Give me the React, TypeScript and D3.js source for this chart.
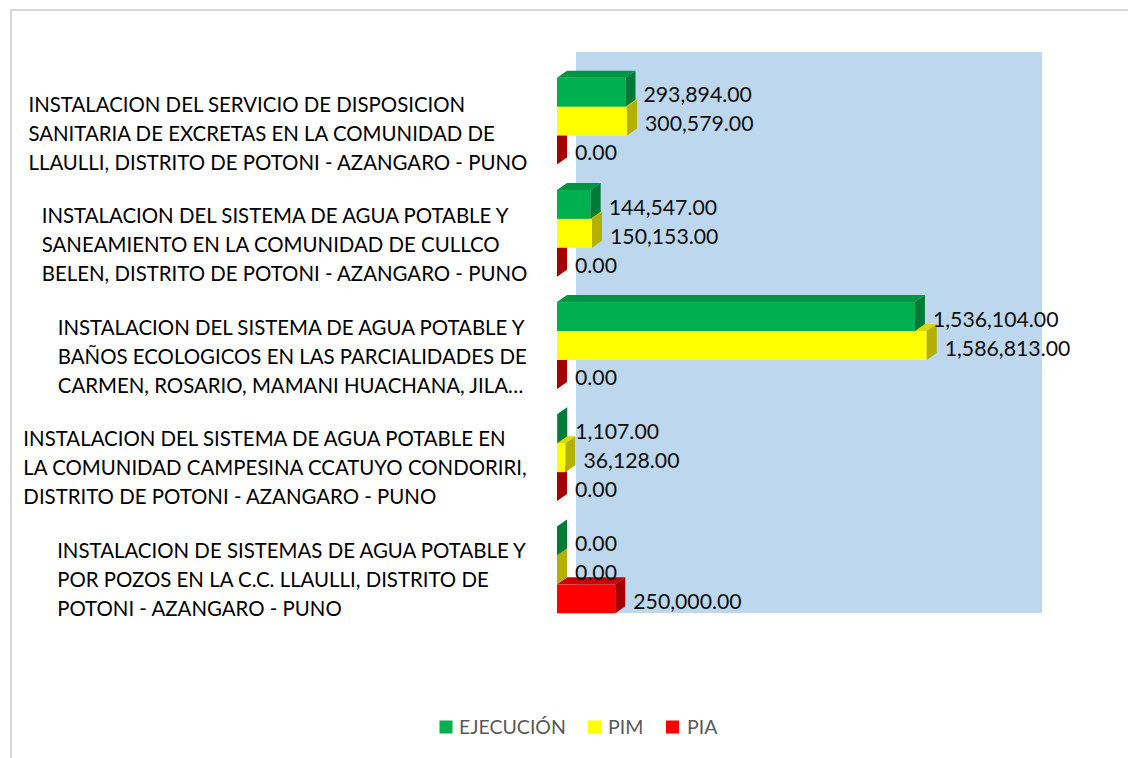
import React, { useMemo } from "react";
import * as d3 from "d3";

const CATEGORIES: string[][] = [
  ["INSTALACION DEL SERVICIO DE DISPOSICION", "SANITARIA DE EXCRETAS EN LA COMUNIDAD DE", "LLAULLI, DISTRITO DE POTONI - AZANGARO - PUNO"],
  ["INSTALACION DEL SISTEMA DE AGUA POTABLE Y", "SANEAMIENTO EN LA COMUNIDAD DE CULLCO", "BELEN, DISTRITO DE POTONI - AZANGARO - PUNO"],
  ["INSTALACION DEL SISTEMA DE AGUA POTABLE Y", "BAÑOS ECOLOGICOS EN LAS PARCIALIDADES DE", "CARMEN, ROSARIO, MAMANI HUACHANA, JILA…"],
  ["INSTALACION DEL SISTEMA DE AGUA POTABLE EN", "LA COMUNIDAD CAMPESINA CCATUYO CONDORIRI,", "DISTRITO DE POTONI - AZANGARO - PUNO"],
  ["INSTALACION DE SISTEMAS DE AGUA POTABLE Y", "POR POZOS EN LA C.C. LLAULLI, DISTRITO DE", "POTONI - AZANGARO - PUNO"],
];

const EJECUCION = [293894, 144547, 1536104, 1107, 0];
const PIM = [300579, 150153, 1586813, 36128, 0];
const PIA = [0, 0, 0, 0, 250000];

const SERIES_NAMES = ["EJECUCIÓN", "PIM", "PIA"];
const X_MAX = 2000000;

const SERIES = [
  { name: SERIES_NAMES[0], values: EJECUCION, front: "#00B050", top: "#009443", side: "#007A37" },
  { name: SERIES_NAMES[1], values: PIM, front: "#FFFF00", top: "#DADA00", side: "#B3B000" },
  { name: SERIES_NAMES[2], values: PIA, front: "#FF0000", top: "#C80000", side: "#A50000" },
];

const FONT = "Lato, 'Open Sans', sans-serif";

function measure(text: string, size: number): number {
  const c = document.createElement("canvas");
  const ctx = c.getContext("2d")!;
  ctx.font = `${size}px ${FONT}`;
  return ctx.measureText(text).width;
}
function fit(text: string, target: number): number {
  return (100 * target) / measure(text, 100);
}

export default function App() {
  const W = 1128, H = 758;
  const x0 = 557, x1 = 1023;
  const yTop = 65, yBot = 626;
  const wallDx = 19, wallDy = -13;
  const barDx = 10, barDy = -7;

  const x = d3.scaleLinear().domain([0, X_MAX]).range([x0, x1]);
  const idx = CATEGORIES.map((_, i) => String(i));
  const y = d3.scaleBand().domain(idx).range([yTop, yBot]).paddingInner(0.226).paddingOuter(0.113);
  const yInner = d3.scaleBand().domain(SERIES.map((s) => s.name)).range([0, y.bandwidth()]);
  const yLabel = d3.scalePoint().domain(idx).range([133.6, 579.6]);
  const fmt = d3.format(",.2f");

  const sizes = useMemo(() => {
    const cat = fit("LLAULLI, DISTRITO DE POTONI - AZANGARO - PUNO", 500);
    const val = fit("293,894.00", 108.5);
    const leg = fit("EJECUCIÓN", 107);
    const blockW = CATEGORIES.map((lines) => Math.max(...lines.map((l) => measure(l, cat))));
    return { cat, val, leg, blockW };
  }, []);

  const catRight = 528;
  const lineGap = 29;

  const bars: JSX.Element[] = [];
  CATEGORIES.forEach((_, ci) => {
    const order = [2, 1, 0];
    order.forEach((si) => {
      const s = SERIES[si];
      const v = s.values[ci];
      const yb = (y(String(ci)) as number) + (yInner(s.name) as number);
      const h = yInner.bandwidth();
      const xe = x(v);
      const xs = x(0);
      bars.push(
        <g key={`b-${ci}-${si}`}>
          {xe > xs && <rect x={xs} y={yb} width={xe - xs} height={h} fill={s.front} />}
          {xe > xs && (
            <polygon
              points={`${xs},${yb} ${xs + barDx},${yb + barDy} ${xe + barDx},${yb + barDy} ${xe},${yb}`}
              fill={s.top}
            />
          )}
          <polygon
            points={`${xe},${yb} ${xe + barDx},${yb + barDy} ${xe + barDx},${yb + h + barDy} ${xe},${yb + h}`}
            fill={s.side}
          />
        </g>
      );
    });
  });

  const labels: JSX.Element[] = [];
  CATEGORIES.forEach((_, ci) => {
    SERIES.forEach((s, si) => {
      const v = s.values[ci];
      const yb = (y(String(ci)) as number) + (yInner(s.name) as number);
      const h = yInner.bandwidth();
      const cy = yb + h / 2 + 2.6;
      labels.push(
        <text
          key={`l-${ci}-${si}`}
          x={x(v) + barDx + 8}
          y={cy + sizes.val * 0.36}
          fontSize={sizes.val}
          fontFamily={FONT}
          fill="#0D0D0D"
        >
          {fmt(v)}
        </text>
      );
    });
  });

  const legendItems = [
    { sx: 439.5, tx: 459 },
    { sx: 588, tx: 608 },
    { sx: 666, tx: 687 },
  ];
  const legendCy = 727;

  return (
    <svg
      width={W}
      height={H}
      style={{ position: "absolute", left: 0, top: 0, background: "#FFFFFF" }}
    >
      <rect x={0} y={0} width={W} height={H} fill="#FFFFFF" />
      <rect x={11} y={10} width={1300} height={900} fill="none" stroke="#D9D9D9" strokeWidth={2} />
      <rect
        x={x0 + wallDx}
        y={yTop + wallDy}
        width={x1 - x0}
        height={yBot - yTop}
        fill="#BDD7EE"
      />
      {bars}
      {labels}
      {CATEGORIES.map((lines, ci) => {
        const cy = yLabel(String(ci)) as number;
        const bx = catRight - sizes.blockW[ci];
        return (
          <text key={`c-${ci}`} fontSize={sizes.cat} fontFamily={FONT} fill="#000000">
            {lines.map((ln, li) => (
              <tspan key={li} x={bx} y={cy + (li - 1) * lineGap + sizes.cat * 0.36}>
                {ln}
              </tspan>
            ))}
          </text>
        );
      })}
      {SERIES.map((s, i) => (
        <g key={`lg-${i}`}>
          <rect x={legendItems[i].sx} y={legendCy - 6.5} width={13} height={13} fill={s.front} />
          <text
            x={legendItems[i].tx}
            y={legendCy + sizes.leg * 0.36}
            fontSize={sizes.leg}
            fontFamily={FONT}
            fill="#595959"
          >
            {s.name}
          </text>
        </g>
      ))}
    </svg>
  );
}
